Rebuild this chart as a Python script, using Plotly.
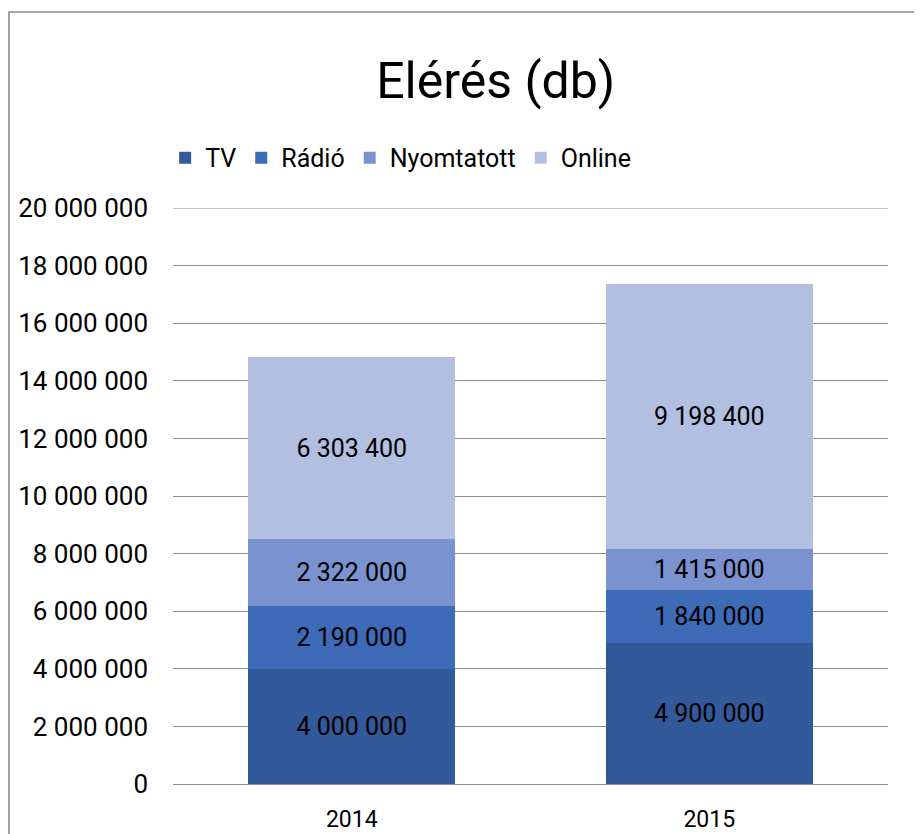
import plotly.graph_objects as go

years = ["2014", "2015"]
series_names = ["TV", "Rádió", "Nyomtatott", "Online"]
tv = [4000000, 4900000]
radio = [2190000, 1840000]
nyomtatott = [2322000, 1415000]
online = [6303400, 9198400]
colors = ["#32599A", "#3D6BB8", "#7A92CF", "#B3BFE0"]
y_ticks = list(range(0, 20000001, 2000000))


def fmt(v):
    return f"{v:,}".replace(",", " ")


FONT = "Roboto, DejaVu Sans, sans-serif"

fig = go.Figure()
for name, vals, col in zip(series_names, [tv, radio, nyomtatott, online], colors):
    fig.add_trace(go.Bar(
        x=years, y=vals, name=name, marker=dict(color=col, line=dict(width=0)),
        text=[fmt(v) for v in vals], textposition="inside", insidetextanchor="middle",
        textfont=dict(color="black", size=25, family=FONT),
        hoverinfo="y+name",
    ))

fig.update_layout(
    barmode="stack", bargap=0.42,
    width=922, height=834,
    margin=dict(l=165, r=42, t=200, b=58, autoexpand=False),
    paper_bgcolor="white", plot_bgcolor="white",
    font=dict(family=FONT, color="black"),
    title=dict(text="Elérés (db)", x=0.529, xanchor="center", y=0.9125, yanchor="middle",
               font=dict(size=50, family=FONT, color="black")),
    legend=dict(orientation="h", x=-0.011, xanchor="left", y=1.087, yanchor="middle",
                font=dict(size=25, family=FONT), traceorder="normal",
                itemwidth=30, tracegroupgap=0, bgcolor="rgba(0,0,0,0)"),
    showlegend=True,
    uniformtext=dict(mode="show", minsize=10),
)
fig.update_yaxes(range=[0, 20000000], tickvals=y_ticks, ticktext=[fmt(v) for v in y_ticks],
                 showgrid=True, gridcolor="#8C8C8C", gridwidth=1, zeroline=False,
                 tickfont=dict(size=26, family=FONT), ticks="", ticklabelstandoff=24,
                 showline=False, automargin=False)
fig.update_xaxes(showline=True, linecolor="#8C8C8C", linewidth=1, ticks="",
                 tickfont=dict(size=23, family=FONT), ticklabelstandoff=14, automargin=False)
fig.add_shape(type="line", xref="paper", yref="y", x0=0, x1=1, y0=y_ticks[-1], y1=y_ticks[-1],
              line=dict(color="#8C8C8C", width=1), layer="below")
fig.add_shape(type="rect", xref="paper", yref="paper", x0=-0.2294, x1=1.3, y0=-0.3, y1=1.3403,
              line=dict(color="#868686", width=1.5), fillcolor="rgba(0,0,0,0)", layer="below")

fig.write_html("out.html")
